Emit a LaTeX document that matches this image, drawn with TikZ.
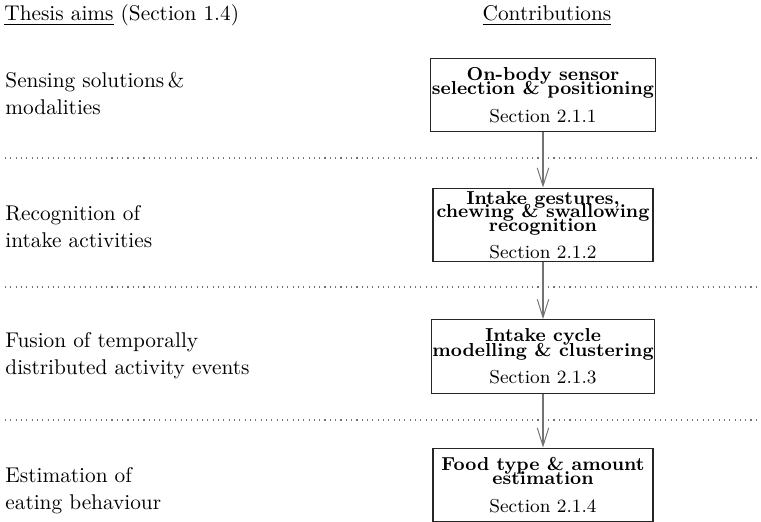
\documentclass[tikz,border=0pt]{standalone}
\usepackage{fontspec}
\usetikzlibrary{arrows.meta}
\begin{document}
\begin{tikzpicture}[x=0.4695pt,y=-0.4695pt,
  head/.style={inner sep=0pt, font=\fontsize{10}{12.7}\selectfont},
  aim/.style={anchor=north west, inner sep=0pt, align=left, font=\fontsize{10}{12.7}\selectfont},
  contrib/.style={draw=black!85, line width=0.5pt, minimum width=103.3pt, minimum height=34.7pt,
    inner xsep=0.5pt, inner ysep=0.8pt, align=center,
    font=\fontsize{8.8}{11}\selectfont},
  sep/.style={draw=black!55, dotted, line width=0.5pt},
  flow/.style={draw=black!55, line width=0.7pt,
    -{Straight Barb[length=8.5pt,width=5.4pt,line width=0.45pt]}},
]
\useasboundingbox (0,0) rectangle (761,522);

\node[head, anchor=base west] (hAims) at (4,21) {\underline{Thesis aims} (Section 1.4)};
\node[head, anchor=base] (hContrib) at (547,21) {\underline{Contributions}};

\node[aim] (a1) at (5,72.2) {Sensing solutions\,\&\\modalities};
\node[aim] (a2) at (5,205.2) {Recognition of\\intake activities};
\node[aim] (a3) at (5,332.2) {Fusion of temporally\\distributed activity events};
\node[aim] (a4) at (5,467.2) {Estimation of\\eating behaviour};

\draw[sep] (5,158) -- (761,158);
\draw[sep] (5,287) -- (761,287);
\draw[sep] (5,420) -- (761,420);

\node[contrib] (c1) at (543,95) {\textbf{On-body sensor}\\[-4.2pt]\textbf{selection \& positioning}\\[2pt]Section 2.1.1};
\node[contrib] (c2) at (543,225) {\textbf{Intake gestures,}\\[-4.5pt]\textbf{chewing \& swallowing}\\[-4.5pt]\textbf{recognition}\\[1.6pt]Section 2.1.2};
\node[contrib] (c3) at (543,356.5) {\textbf{Intake cycle}\\[-4.2pt]\textbf{modelling \& clustering}\\[2pt]Section 2.1.3};
\node[contrib] (c4) at (543,485) {\textbf{Food type \& amount}\\[-4.2pt]\textbf{estimation}\\[2pt]Section 2.1.4};

\draw[flow] (c1) -- (c2);
\draw[flow] (c2) -- (c3);
\draw[flow] (c3) -- (c4);
\end{tikzpicture}
\end{document}
